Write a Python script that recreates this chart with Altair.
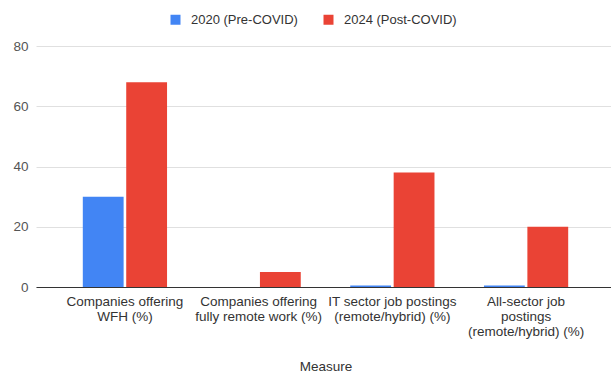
import json
import altair as alt
import pandas as pd

# Measures shown along the x axis, and how each label wraps
measures = [
    "Companies offering WFH (%)",
    "Companies offering fully remote work (%)",
    "IT sector job postings (remote/hybrid) (%)",
    "All-sector job postings (remote/hybrid) (%)",
]
label_lines = [
    ["Companies offering", "WFH (%)"],
    ["Companies offering", "fully remote work (%)"],
    ["IT sector job postings", "(remote/hybrid) (%)"],
    ["All-sector job", "postings", "(remote/hybrid) (%)"],
]

series = ["2020 (Pre-COVID)", "2024 (Post-COVID)"]
values_2020 = [30, 0, 0.5, 0.5]
values_2024 = [68, 5, 38, 20]
colors = ["#4285F4", "#EA4335"]

rows = []
for m, a, b in zip(measures, values_2020, values_2024):
    rows.append({"Measure": m, "Year": series[0], "Value": a})
    rows.append({"Measure": m, "Year": series[1], "Value": b})
df = pd.DataFrame(rows)

# nested conditional that turns each measure into its wrapped label lines
expr = "datum.label"
for m, lines in reversed(list(zip(measures, label_lines))):
    expr = f"datum.label == {json.dumps(m)} ? {json.dumps(lines)} : ({expr})"

font = "Liberation Sans"

chart = (
    alt.Chart(df)
    .mark_bar()
    .encode(
        x=alt.X(
            "Measure:N",
            sort=measures,
            scale=alt.Scale(paddingInner=0.37, paddingOuter=0.35, range=[3, 582]),
            axis=alt.Axis(
                title="Measure",
                labelAngle=0,
                labelExpr=expr,
                labelFontSize=13.5,
                labelColor="#333333",
                labelLineHeight=15,
                labelPadding=7,
                ticks=False,
                domainColor="#333333",
                titleFontSize=13.5,
                titleFontWeight="normal",
                titleColor="#333333",
                titlePadding=22,
                labelLimit=250,
            ),
        ),
        xOffset=alt.XOffset("Year:N", sort=series, scale=alt.Scale(paddingInner=0.06)),
        y=alt.Y(
            "Value:Q",
            scale=alt.Scale(domain=[0, 80]),
            axis=alt.Axis(
                title=None,
                values=[0, 20, 40, 60, 80],
                domain=False,
                ticks=False,
                labelFontSize=13.5,
                labelColor="#555555",
                labelPadding=5,
                gridColor="#e0e0e0",
            ),
        ),
        color=alt.Color(
            "Year:N",
            sort=series,
            scale=alt.Scale(domain=series, range=colors),
            legend=alt.Legend(
                title=None,
                orient="none",
                direction="horizontal",
                legendX=136,
                legendY=-33,
                symbolType="square",
                symbolSize=100,
                symbolStrokeWidth=0,
                labelFontSize=13,
                labelColor="#333333",
                columnPadding=24,
                labelOffset=9,
            ),
        ),
    )
    .properties(
        width=578,
        height=241,
        autosize=alt.AutoSizeParams(type="none"),
        padding={"left": 33, "top": 46, "right": 0, "bottom": 87},
    )
    .configure(font=font)
    .configure_view(stroke=None)
)

chart.save("out.html", embed_options={"renderer": "svg", "actions": False})
